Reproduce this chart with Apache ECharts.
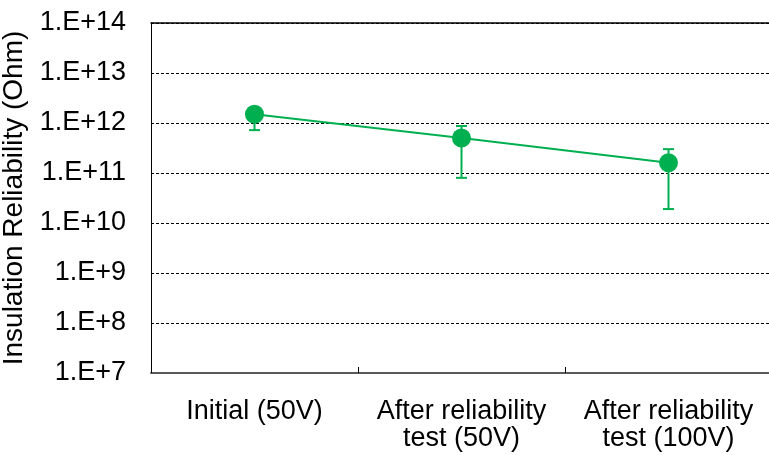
<!DOCTYPE html>
<html>
<head>
<meta charset="utf-8">
<script src="https://cdn.jsdelivr.net/npm/echarts@6/dist/echarts.min.js"></script>
<style>html,body{margin:0;padding:0;background:#fff;}#c{width:769px;height:455px;}</style>
</head>
<body>
<div id="c"></div>
<script>
var categories = ['Initial (50V)', 'After reliability\ntest (50V)', 'After reliability\ntest (100V)'];
var meanValues = [1.5e12, 5.0e11, 1.6e11];
var lowValues = [7.2e11, 8.0e10, 1.9e10];
var highValues = [2.0e12, 8.7e11, 3.0e11];
var yMin = 1e7;
var yMax = 1e14;

var green = '#00b050';
var font = 'Liberation Sans, Arial, sans-serif';

var errData = categories.map(function (c, i) { return [i, lowValues[i], highValues[i]]; });

var chart = echarts.init(document.getElementById('c'), null, {renderer: 'canvas'});
chart.setOption({
  animation: false,
  backgroundColor: '#fff',
  grid: {left: 151, right: -3, top: 23, bottom: 82, containLabel: false, outerBoundsMode: 'none'},
  xAxis: [{
    type: 'category',
    data: categories,
    boundaryGap: true,
    axisLine: {show: true, lineStyle: {color: '#595959', width: 2}},
    axisTick: {show: true, inside: true, length: 6, lineStyle: {color: '#000', width: 1}},
    axisLabel: {color: '#000', fontFamily: font, fontSize: 27, lineHeight: 27, margin: 25, interval: 0},
    splitLine: {show: false}
  }, {
    type: 'category',
    data: categories,
    position: 'top',
    axisLine: {show: true, lineStyle: {color: '#000', width: 1.5}},
    axisTick: {show: false},
    axisLabel: {show: false},
    splitLine: {show: false}
  }],
  yAxis: {
    type: 'log',
    logBase: 10,
    min: yMin,
    max: yMax,
    name: 'Insulation Reliability (Ohm)',
    nameLocation: 'middle',
    nameGap: 114,
    nameRotate: 90,
    nameTextStyle: {color: '#000', fontFamily: font, fontSize: 28},
    axisLine: {show: true, lineStyle: {color: '#000', width: 1}},
    axisTick: {show: false},
    axisLabel: {
      color: '#000', fontFamily: font, fontSize: 27, margin: 25,
      formatter: function (v) { return '1.E+' + Math.round(Math.log10(v)); }
    },
    splitLine: {show: true, lineStyle: {color: '#000', type: [3, 2], width: 1}}
  },
  series: [{
    type: 'custom',
    xAxisIndex: 0,
    data: errData,
    encode: {x: 0, y: [1, 2]},
    z: 2,
    renderItem: function (params, api) {
      var x = api.value(0);
      var lo = api.coord([x, api.value(1)]);
      var hi = api.coord([x, api.value(2)]);
      var w = 5.5;
      var st = {stroke: green, lineWidth: 2};
      return {
        type: 'group',
        children: [
          {type: 'line', shape: {x1: lo[0], y1: lo[1], x2: hi[0], y2: hi[1]}, style: st},
          {type: 'line', shape: {x1: lo[0] - w, y1: lo[1], x2: lo[0] + w, y2: lo[1]}, style: st},
          {type: 'line', shape: {x1: hi[0] - w, y1: hi[1], x2: hi[0] + w, y2: hi[1]}, style: st}
        ]
      };
    }
  }, {
    type: 'line',
    xAxisIndex: 0,
    data: meanValues,
    z: 3,
    symbol: 'circle',
    symbolSize: 19,
    lineStyle: {color: green, width: 2},
    itemStyle: {color: green}
  }]
});
</script>
</body>
</html>
